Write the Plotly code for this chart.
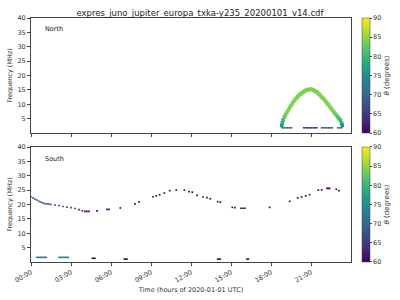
import plotly.graph_objects as go

# ---------------- data ----------------
# North hemisphere: arch (hours, MHz, theta deg)
north_t = [18.80, 18.85, 18.90, 19.0, 19.1, 19.2, 19.3, 19.4, 19.5, 19.6, 19.7, 19.8, 19.9,
           20.0, 20.1, 20.2, 20.3, 20.4, 20.5, 20.6, 20.7, 20.8, 20.9,
           21.0, 21.1, 21.2, 21.3, 21.4, 21.5, 21.6, 21.7, 21.8, 21.9,
           22.0, 22.1, 22.2, 22.3, 22.4, 22.5, 22.6, 22.7, 22.8, 22.9,
           23.0, 23.1, 23.2, 23.3, 23.35]
north_f = [2.6, 3.5, 4.5, 5.6, 6.4, 7.2, 8.0, 8.8, 9.6, 10.3, 11.0, 11.6, 12.1,
           12.6, 13.1, 13.5, 13.9, 14.2, 14.5, 14.8, 15.0, 15.1, 15.2,
           15.2, 15.1, 14.9, 14.6, 14.3, 14.0, 13.5, 13.0, 12.5, 12.1,
           11.6, 11.0, 10.4, 9.8, 9.2, 8.6, 8.0, 7.4, 6.8, 6.2,
           5.6, 5.0, 4.4, 3.4, 2.6]
north_a = [75, 78, 80, 82, 83, 84, 84, 84, 84, 84, 84, 84, 84,
           84, 84, 84, 84, 84, 84, 84, 84, 84, 84,
           84, 84, 84, 84, 84, 84, 84, 84, 84, 84,
           84, 84, 84, 84, 84, 84, 84, 84, 83, 83,
           82, 81, 80, 78, 75]
# North low-frequency emission
north_low_t = [18.85, 18.95, 19.05, 19.15, 19.25, 19.35, 19.45, 19.55,
               20.45, 20.55, 20.65, 20.75, 20.85, 20.95, 21.05, 21.15, 21.25, 21.35, 21.45,
               21.8, 21.9, 22.0, 22.1, 22.2, 22.3, 22.4, 22.5, 22.6,
               23.0, 23.1, 23.2, 23.3]
north_low_f = [1.8] * 8 + [1.8] * 11 + [1.8] * 9 + [1.8] * 4
north_low_a = [72] * 8 + [65] * 11 + [69] * 9 + [73] * 4

# South hemisphere
south_t = [0.0, 0.15, 0.3, 0.45, 0.6, 0.75, 0.9, 1.05, 1.2, 1.35, 1.5, 1.8, 2.1, 2.4, 2.7,
           3.0, 3.3, 3.6, 3.85, 4.05, 4.2, 4.35, 4.95, 5.7, 5.85, 6.7, 7.8, 8.1,
           9.15, 9.4, 9.65, 10.0, 10.4, 10.9, 11.5, 11.85, 12.1, 12.45, 12.9, 13.2, 13.45,
           14.0, 14.2, 15.1, 15.3, 15.75, 15.9, 16.05, 17.9, 19.4, 20.0, 20.3, 20.6, 20.9,
           21.55, 21.8, 22.2, 22.3, 22.4, 22.9, 23.1]
south_f = [22.7, 22.3, 21.9, 21.5, 21.1, 20.8, 20.5, 20.3, 20.2, 20.1, 20.0, 19.8, 19.6, 19.3, 19.1,
           18.9, 18.6, 18.2, 17.8, 17.6, 17.6, 17.6, 17.8, 18.3, 18.3, 18.8, 20.2, 20.9,
           22.7, 23.0, 23.4, 24.0, 24.8, 25.0, 25.0, 24.5, 24.3, 23.2, 22.6, 22.4, 22.0,
           21.0, 20.8, 19.0, 18.9, 18.7, 18.7, 18.7, 19.0, 21.1, 22.3, 22.6, 23.0, 23.4,
           25.0, 25.1, 25.6, 25.6, 25.6, 25.3, 24.8]
south_a = [69, 69, 69, 68, 68, 68, 68, 68, 68, 68, 68, 68, 67, 67, 66,
           65, 64, 62, 61, 60, 60, 60, 60, 60, 60, 60, 60, 60,
           60, 60, 60, 60, 60, 60, 60, 60, 60, 60, 60, 60, 60,
           60, 60, 60, 60, 60, 60, 60, 60, 60, 60, 60, 60, 60,
           60, 60, 60, 60, 60, 60, 60]
# South low-frequency emission
south_low_t = [0.45, 0.55, 0.65, 0.75, 0.85, 0.95, 1.05, 1.15,
               2.1, 2.2, 2.3, 2.4, 2.5, 2.6, 2.7, 2.8,
               4.6, 4.7, 4.8, 7.0, 7.1, 7.2, 14.0, 14.1, 14.2, 16.2, 16.3]
south_low_f = [1.6] * 16 + [1.3] * 3 + [1.0] * 3 + [1.0] * 3 + [1.0] * 2
south_low_a = [72] * 16 + [60] * 11

title = "expres_juno_jupiter_europa_txka-y235_20200101_v14.cdf"
xtick_vals = [0, 3, 6, 9, 12, 15, 18, 21]
xtick_text = ["00:00", "03:00", "06:00", "09:00", "12:00", "15:00", "18:00", "21:00"]
ytick_vals = [5, 10, 15, 20, 25, 30, 35, 40]
cb_ticks = [60, 65, 70, 75, 80, 85, 90]

# ---------------- figure ----------------
FONT = "DejaVu Sans"
fig = go.Figure()

def add(t, f, a, xa, ya, ca, size):
    fig.add_trace(go.Scatter(
        x=t, y=f, mode="markers", xaxis=xa, yaxis=ya, showlegend=False,
        marker=dict(symbol="square", size=size, color=a, coloraxis=ca, line=dict(width=0)),
    ))

add(north_t, north_f, north_a, "x", "y", "coloraxis", 3.6)
add(north_low_t, north_low_f, north_low_a, "x", "y", "coloraxis", 1.6)
add(south_t, south_f, south_a, "x2", "y2", "coloraxis2", 1.7)
add(south_low_t, south_low_f, south_low_a, "x2", "y2", "coloraxis2", 1.6)

axis_common = dict(showgrid=False, zeroline=False, showline=True, mirror=True,
                   linecolor="#444", linewidth=1, ticks="outside", ticklen=3,
                   tickcolor="#444", tickfont=dict(family=FONT, size=6.5, color="#333"))

cb_common = dict(thickness=8, lenmode="fraction", len=0.4713, yanchor="middle",
                 x=1.034, xanchor="left", xpad=0, ypad=0, tickvals=cb_ticks,
                 ticks="outside", ticklen=2,
                 tickfont=dict(family=FONT, size=6.5, color="#333"), outlinewidth=0.5,
                 outlinecolor="#444",
                 title=dict(text="<i>θ</i> (degrees)", side="right",
                            font=dict(family=FONT, size=7, color="#333")))

fig.update_layout(
    width=400, height=300,
    margin=dict(l=31, r=49, t=18, b=38, autoexpand=False),
    paper_bgcolor="white", plot_bgcolor="white",
    title=dict(text=title, x=0.5, xanchor="center", y=0.968, yanchor="top",
               font=dict(family=FONT, size=8.5, color="#222")),
    xaxis=dict(domain=[0, 1], range=[0, 24], anchor="y", tickvals=xtick_vals,
               showticklabels=False, **axis_common),
    yaxis=dict(domain=[0.5287, 1], range=[0, 40], anchor="x", tickvals=ytick_vals,
               title=dict(text="Frequency (MHz)", standoff=4,
                          font=dict(family=FONT, size=6.5, color="#333")), **axis_common),
    xaxis2=dict(domain=[0, 1], range=[0, 24], anchor="y2", tickvals=xtick_vals,
                ticktext=xtick_text, tickangle=-30,
                title=dict(text="Time (hours of 2020-01-01 UTC)", standoff=3,
                           font=dict(family=FONT, size=6.5, color="#333")), **axis_common),
    yaxis2=dict(domain=[0, 0.4713], range=[0, 40], anchor="x2", tickvals=ytick_vals,
                title=dict(text="Frequency (MHz)", standoff=4,
                           font=dict(family=FONT, size=6.5, color="#333")), **axis_common),
    coloraxis=dict(colorscale="Viridis", cmin=60, cmax=90,
                   colorbar=dict(y=0.7643, **cb_common)),
    coloraxis2=dict(colorscale="Viridis", cmin=60, cmax=90,
                    colorbar=dict(y=0.2357, **cb_common)),
    annotations=[
        dict(text="North", xref="x domain", yref="y domain", x=0.037, y=0.9,
             xanchor="left", yanchor="middle", showarrow=False,
             font=dict(family=FONT, size=6.5, color="#222")),
        dict(text="South", xref="x2 domain", yref="y2 domain", x=0.037, y=0.9,
             xanchor="left", yanchor="middle", showarrow=False,
             font=dict(family=FONT, size=6.5, color="#222")),
    ],
)

fig.write_html("out.html")
